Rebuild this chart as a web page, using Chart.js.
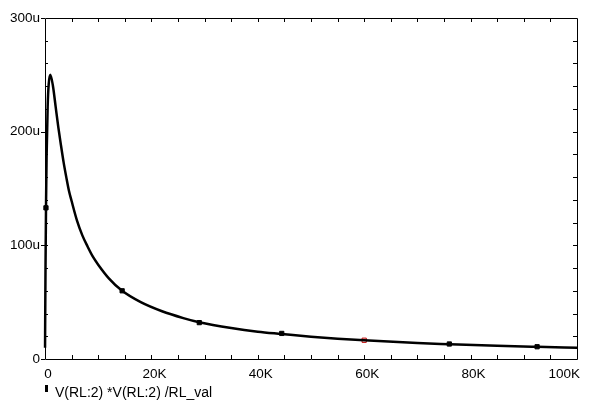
<!DOCTYPE html>
<html>
<head>
<meta charset="utf-8">
<script src="https://cdn.jsdelivr.net/npm/chart.js@4/dist/chart.umd.min.js"></script>
<style>
  html, body { margin: 0; padding: 0; background: #fff; }
  #wrap { position: relative; width: 596px; height: 404px; }
  #legend { position: absolute; left: 45px; top: 382px; font: 14px "Liberation Sans", Arial, sans-serif; color: #000; white-space: nowrap; }
  #legend .box { position: absolute; left: 0; top: 3px; width: 3px; height: 7px; background: #000; }
  #legend .txt { position: absolute; left: 10px; top: 2px; }
</style>
</head>
<body>
<div id="wrap">
  <canvas id="c" width="596" height="404"></canvas>
  <div id="legend"><span class="box"></span><span class="txt">V(RL:2) *V(RL:2) /RL_val</span></div>
</div>
<script>
// RL value (ohms) swept along X
const rlValues = [10, 50, 100, 200, 300, 500, 700, 1000, 1500, 2000, 2500, 3000, 3500, 4000, 4500, 5000, 6000, 7000, 8000, 9000, 10000, 12000, 14500, 18000, 22000, 26000, 29000, 35000, 40000, 44500, 50000, 55000, 60000, 70000, 76000, 85000, 92500, 100000];
// power in load, micro-units (u)
const powerValues = [10, 46, 83, 139, 178, 222, 242, 250, 240, 222, 204, 188, 173, 160, 148, 139, 122, 109, 99, 90, 83, 71, 60, 50, 42, 36, 32.3, 27.2, 24, 22, 19.6, 17.8, 16.4, 14, 13, 11.6, 10.7, 9.9];
// trace marker positions
const markerRl = [180, 14500, 29000, 44500, 60000, 76000, 92500];
const markerPower = [133, 60, 32, 22.5, 16.5, 13.2, 10.8];
const markerIsCursor = [false, false, false, false, true, false, false];

const xTickLabels = ['0', '20K', '40K', '60K', '80K', '100K'];
const yTickLabels = ['0', '100u', '200u', '300u'];

const FONT = { family: '"Liberation Sans", Arial, sans-serif', size: 13.5 };

const frame = {
  id: 'frame',
  beforeDraw(chart) {
    const xs = chart.scales.x;
    const items = xs.getLabelItems();
    const last = items[items.length - 1];
    if (last && last.label === xTickLabels[xTickLabels.length - 1] && !last._adj) {
      last.options.textAlign = 'right';
      last.options.translation[0] = chart.chartArea.right + 3;
      last._adj = true;
    }
  },
  beforeDatasetsDraw(chart) {
    const { ctx, chartArea: a, scales: { x, y } } = chart;
    ctx.save();
    ctx.strokeStyle = '#000';
    ctx.lineWidth = 1;
    ctx.beginPath();
    ctx.rect(Math.round(a.left) + 0.5, Math.round(a.top) + 0.5, Math.round(a.right - a.left), Math.round(a.bottom - a.top));
    for (let v = 5000; v < 100000; v += 5000) {
      const px = Math.round(x.getPixelForValue(v)) + 0.5;
      ctx.moveTo(px, a.bottom); ctx.lineTo(px, a.bottom - 4);
      ctx.moveTo(px, a.top); ctx.lineTo(px, a.top + 4);
    }
    for (let v = 20; v < 300; v += 20) {
      const py = Math.round(y.getPixelForValue(v * 1e-6)) + 0.5;
      ctx.moveTo(a.left, py); ctx.lineTo(a.left + 3, py);
      ctx.moveTo(a.right, py); ctx.lineTo(a.right - 4, py);
    }
    for (let v = 0; v <= 300; v += 100) {
      const py = Math.round(y.getPixelForValue(v * 1e-6)) + 0.5;
      ctx.moveTo(a.left - 4, py); ctx.lineTo(a.left, py);
    }
    ctx.stroke();
    ctx.restore();
  }
};

new Chart(document.getElementById('c'), {
  type: 'scatter',
  data: {
    datasets: [
      {
        data: rlValues.map((r, i) => ({ x: r, y: powerValues[i] * 1e-6 })),
        showLine: true,
        borderColor: '#000',
        borderWidth: 2.5,
        pointRadius: 0,
        clip: false,
        cubicInterpolationMode: 'monotone'
      },
      {
        data: markerRl.map((r, i) => ({ x: r, y: markerPower[i] * 1e-6 })),
        showLine: false,
        clip: false,
        pointStyle: 'rect',
        pointRadius: 3,
        pointBorderWidth: 1,
        pointBackgroundColor: markerIsCursor.map(c => c ? 'rgba(0,0,0,0)' : '#000'),
        pointBorderColor: markerIsCursor.map(c => c ? '#c00000' : '#000')
      }
    ]
  },
  options: {
    responsive: false,
    animation: false,
    devicePixelRatio: 1,
    layout: { padding: { top: 18, right: 19, left: 0, bottom: 0 } },
    plugins: { legend: { display: false }, tooltip: { enabled: false } },
    scales: {
      x: {
        type: 'linear',
        min: 0, max: 100000,
        grid: { display: false, drawTicks: false },
        border: { display: false },
        ticks: {
          stepSize: 20000,
          padding: 7,
          labelOffset: 3,
          maxRotation: 0,
          color: '#000',
          font: FONT,
          callback: (v) => xTickLabels[Math.round(v / 20000)]
        },
        afterFit(s) { s.height = 45; s.paddingLeft = 0; s.paddingRight = 0; }
      },
      y: {
        type: 'linear',
        min: 0, max: 300e-6,
        grid: { display: false, drawTicks: false },
        border: { display: false },
        ticks: {
          stepSize: 100e-6,
          padding: 5,
          color: '#000',
          font: FONT,
          callback: (v) => yTickLabels[Math.round(v / 100e-6)]
        },
        afterFit(s) { s.width = 45; s.paddingTop = 0; s.paddingBottom = 0; }
      }
    }
  },
  plugins: [frame]
});
</script>
</body>
</html>
